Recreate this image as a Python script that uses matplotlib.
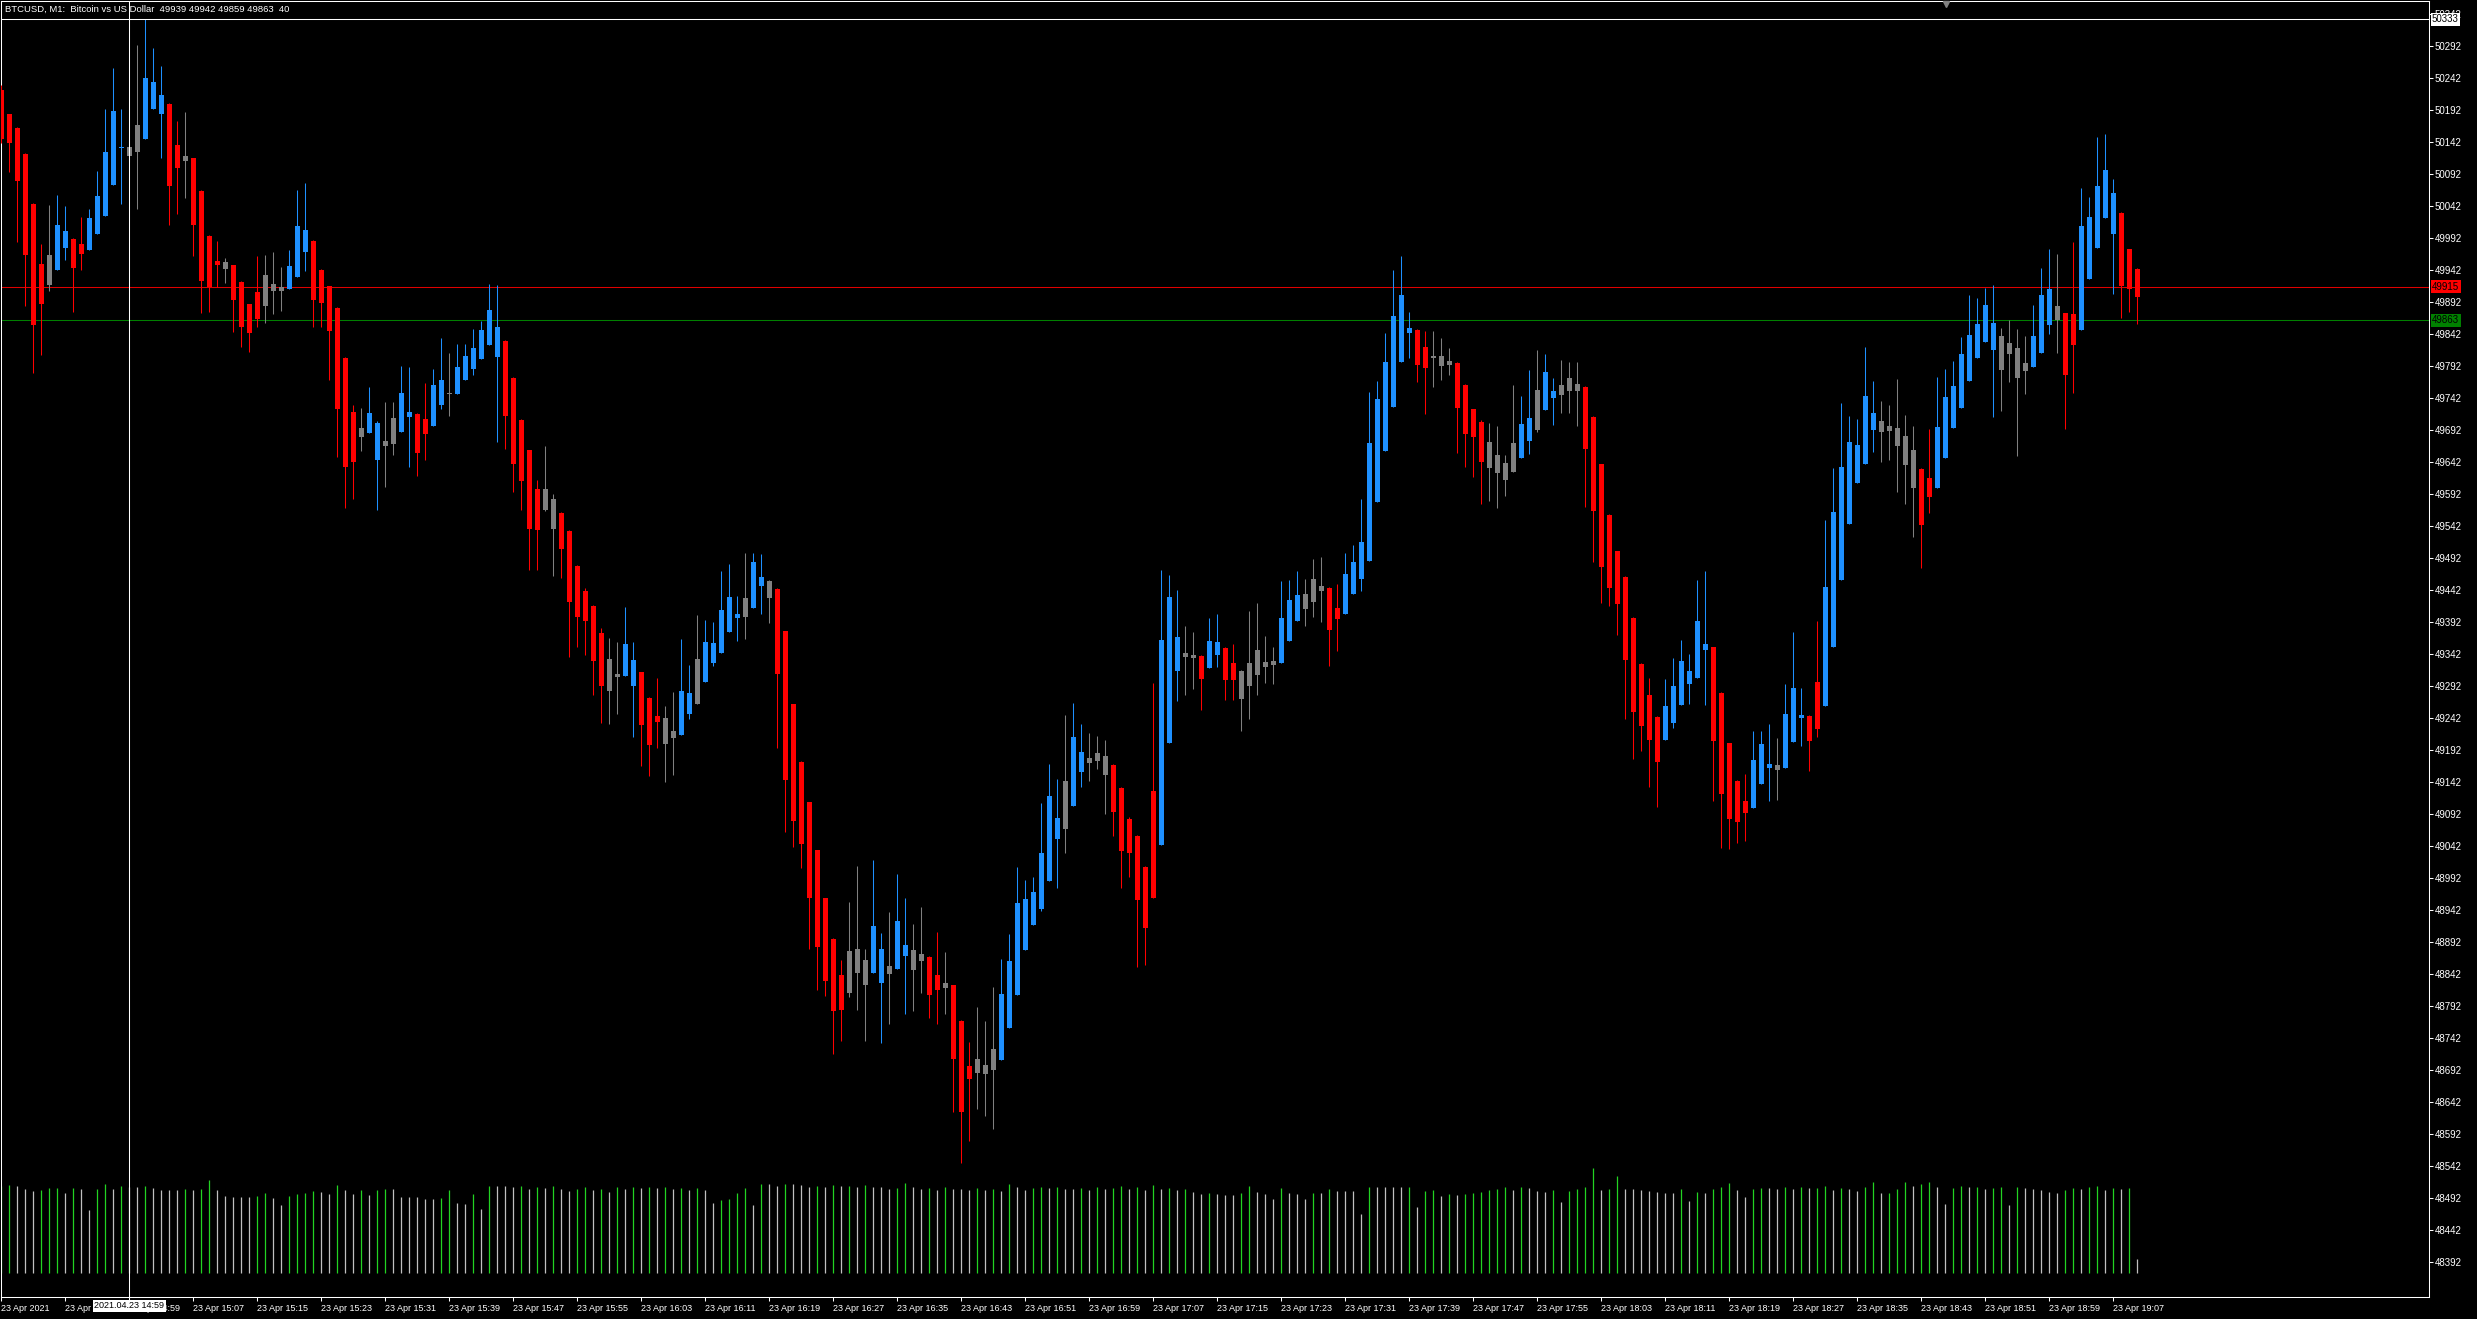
import matplotlib
matplotlib.use("Agg")
import matplotlib.pyplot as plt
from matplotlib.transforms import blended_transform_factory

plt.rcParams['font.family'] = ['Liberation Sans', 'DejaVu Sans']

# BTCUSD M1, 23 Apr 2021, one candle per minute from 14:43 to 19:10
opens = [
    50223, 50185, 50163, 50123, 50045, 49951, 49918, 49941, 49976, 49990,
    49982, 49973, 49998, 50026, 50074, 50132, 50120, 50126, 50146, 50193,
    50185, 50201, 50137, 50112, 50116, 50065, 49995, 49955, 49943, 49949,
    49923, 49888, 49907, 49886, 49909, 49909, 49912, 49930, 49970, 49987,
    49942, 49916, 49882, 49804, 49720, 49680, 49687, 49644, 49667, 49670,
    49689, 49712, 49717, 49709, 49697, 49730, 49748, 49748, 49769, 49787,
    49803, 49825, 49806, 49831, 49773, 49707, 49660, 49599, 49566, 49537,
    49562, 49534, 49479, 49440, 49417, 49374, 49284, 49306, 49307, 49292,
    49313, 49273, 49245, 49201, 49210, 49215, 49248, 49263, 49298, 49328,
    49343, 49376, 49398, 49399, 49413, 49448, 49429, 49443, 49377, 49263,
    49173, 49110, 49035, 48960, 48896, 48840, 48812, 48843, 48825, 48843,
    48827, 48842, 48849, 48870, 48847, 48862, 48868, 48840, 48819, 48824,
    48768, 48698, 48687, 48685, 48691, 48707, 48757, 48809, 48879, 48918,
    48943, 48987, 49052, 49068, 49104, 49157, 49171, 49174, 49152, 49168,
    49132, 49084, 49057, 49009, 49127, 49043, 49202, 49315, 49337, 49335,
    49338, 49320, 49340, 49351, 49327, 49271, 49292, 49309, 49321, 49324,
    49327, 49362, 49393, 49412, 49423, 49440, 49445, 49413, 49404, 49435,
    49459, 49487, 49579, 49659, 49727, 49798, 49843, 49848, 49821, 49804,
    49792, 49793, 49796, 49762, 49724, 49704, 49632, 49624, 49613, 49626,
    49648, 49674, 49692, 49723, 49742, 49746, 49752, 49752, 49759, 49712,
    49638, 49559, 49502, 49462, 49398, 49326, 49278, 49243, 49207, 49234,
    49262, 49295, 49304, 49348, 49352, 49281, 49202, 49143, 49112, 49101,
    49138, 49163, 49160, 49163, 49204, 49242, 49245, 49298, 49260, 49352,
    49457, 49545, 49609, 49638, 49692, 49688, 49690, 49667, 49637, 49601,
    49631, 49617, 49601, 49648, 49695, 49726, 49768, 49804, 49829, 49816,
    49785, 49810, 49773, 49784, 49790, 49812, 49856, 49863, 49874, 49873,
    49848, 49927, 49976, 50023, 49998, 50031, 49974, 49943,
]
highs = [
    50230, 50186, 50165, 50124, 50046, 49982, 50043, 50059, 50041, 49991,
    50024, 50037, 50096, 50193, 50257, 50193, 50145, 50293, 50333, 50288,
    50260, 50202, 50174, 50188, 50117, 50066, 49996, 49987, 49960, 49950,
    49924, 49889, 49963, 49965, 49970, 49946, 49973, 50067, 50077, 49988,
    49943, 49917, 49883, 49805, 49731, 49726, 49759, 49705, 49735, 49735,
    49792, 49790, 49718, 49765, 49787, 49835, 49812, 49826, 49826, 49849,
    49862, 49920, 49918, 49832, 49774, 49708, 49661, 49613, 49666, 49592,
    49563, 49535, 49480, 49445, 49418, 49382, 49367, 49360, 49415, 49360,
    49314, 49274, 49304, 49260, 49282, 49365, 49324, 49403, 49395, 49392,
    49471, 49482, 49432, 49499, 49499, 49498, 49457, 49444, 49378, 49264,
    49174, 49111, 49036, 48961, 48897, 48864, 48954, 49010, 48880, 49020,
    48906, 48938, 48998, 48960, 48920, 48946, 48869, 48907, 48876, 48825,
    48769, 48735, 48790, 48768, 48821, 48865, 48904, 49009, 48988, 48993,
    49109, 49170, 49146, 49246, 49265, 49232, 49218, 49213, 49207, 49169,
    49133, 49087, 49058, 49010, 49296, 49473, 49465, 49442, 49385, 49376,
    49340, 49398, 49404, 49352, 49357, 49316, 49409, 49421, 49370, 49352,
    49456, 49457, 49471, 49459, 49490, 49493, 49446, 49451, 49499, 49512,
    49584, 49751, 49768, 49843, 49942, 49963, 49876, 49849, 49846, 49846,
    49835, 49820, 49797, 49763, 49725, 49707, 49702, 49698, 49652, 49762,
    49745, 49785, 49817, 49810, 49773, 49801, 49798, 49798, 49760, 49713,
    49639, 49560, 49503, 49463, 49399, 49327, 49304, 49244, 49302, 49335,
    49363, 49342, 49457, 49471, 49353, 49282, 49203, 49144, 49154, 49221,
    49221, 49232, 49210, 49295, 49376, 49288, 49246, 49393, 49551, 49632,
    49734, 49713, 49709, 49821, 49768, 49737, 49731, 49771, 49715, 49698,
    49632, 49693, 49774, 49787, 49799, 49837, 49902, 49898, 49913, 49918,
    49851, 49863, 49849, 49838, 49887, 49945, 49974, 49967, 49875, 49985,
    50070, 50056, 50149, 50154, 50084, 50032, 49975, 49944,
]
lows = [
    50140, 50094, 49986, 49886, 49780, 49808, 49908, 49941, 49957, 49876,
    49941, 49973, 49998, 50026, 50074, 50045, 50110, 50037, 50146, 50193,
    50117, 50012, 50029, 50054, 49963, 49874, 49876, 49915, 49921, 49844,
    49821, 49813, 49852, 49858, 49873, 49878, 49912, 49930, 49940, 49852,
    49853, 49769, 49650, 49569, 49583, 49658, 49687, 49566, 49602, 49653,
    49689, 49634, 49619, 49645, 49697, 49725, 49713, 49748, 49769, 49778,
    49803, 49825, 49672, 49662, 49595, 49566, 49472, 49473, 49565, 49463,
    49461, 49337, 49353, 49340, 49278, 49234, 49232, 49248, 49307, 49212,
    49167, 49151, 49195, 49142, 49153, 49215, 49240, 49263, 49298, 49323,
    49343, 49376, 49362, 49365, 49413, 49404, 49390, 49195, 49063, 49040,
    49007, 48881, 48816, 48807, 48717, 48737, 48806, 48786, 48737, 48843,
    48733, 48763, 48849, 48779, 48783, 48812, 48772, 48764, 48779, 48626,
    48546, 48580, 48630, 48620, 48599, 48707, 48757, 48809, 48879, 48918,
    48940, 48987, 48976, 49031, 49104, 49134, 49143, 49162, 49092, 49057,
    48976, 48993, 48852, 48856, 48960, 49043, 49202, 49268, 49277, 49287,
    49254, 49320, 49321, 49270, 49270, 49221, 49240, 49277, 49296, 49295,
    49327, 49362, 49393, 49385, 49399, 49391, 49323, 49346, 49404, 49435,
    49440, 49487, 49579, 49659, 49727, 49798, 49804, 49767, 49717, 49759,
    49770, 49777, 49656, 49634, 49618, 49576, 49581, 49570, 49588, 49626,
    49648, 49654, 49688, 49723, 49699, 49718, 49718, 49698, 49571, 49486,
    49421, 49417, 49371, 49240, 49177, 49190, 49134, 49102, 49207, 49226,
    49262, 49263, 49304, 49262, 49112, 49038, 49037, 49046, 49049, 49101,
    49138, 49112, 49113, 49163, 49204, 49198, 49159, 49212, 49260, 49352,
    49457, 49545, 49609, 49638, 49657, 49642, 49645, 49595, 49576, 49524,
    49476, 49562, 49601, 49648, 49695, 49726, 49768, 49804, 49829, 49712,
    49721, 49766, 49651, 49748, 49790, 49812, 49842, 49812, 49693, 49749,
    49848, 49927, 49976, 50023, 49904, 49867, 49876, 49857,
]
closes = [
    50146, 50140, 50081, 49965, 49856, 49888, 49965, 50012, 50002, 49945,
    49966, 50023, 50057, 50126, 50190, 50134, 50134, 50168, 50241, 50235,
    50215, 50073, 50101, 50120, 50012, 49924, 49915, 49949, 49954, 49894,
    49852, 49843, 49865, 49934, 49920, 49915, 49948, 50010, 50004, 49895,
    49890, 49846, 49725, 49634, 49642, 49695, 49718, 49702, 49674, 49710,
    49749, 49720, 49656, 49686, 49762, 49770, 49750, 49790, 49807, 49820,
    49848, 49879, 49852, 49714, 49639, 49612, 49537, 49535, 49599, 49584,
    49506, 49423, 49399, 49393, 49331, 49292, 49334, 49310, 49357, 49332,
    49231, 49199, 49235, 49242, 49221, 49284, 49281, 49334, 49360, 49359,
    49410, 49431, 49404, 49429, 49485, 49462, 49456, 49310, 49145, 49081,
    49045, 48961, 48883, 48831, 48783, 48785, 48877, 48880, 48864, 48917,
    48880, 48854, 48924, 48887, 48879, 48873, 48809, 48816, 48827, 48709,
    48626, 48678, 48709, 48699, 48724, 48810, 48862, 48952, 48959, 48970,
    49031, 49120, 49085, 49143, 49212, 49188, 49179, 49187, 49182, 49095,
    49034, 49031, 48957, 48913, 48960, 49363, 49431, 49368, 49343, 49340,
    49302, 49362, 49360, 49301, 49301, 49315, 49327, 49348, 49329, 49330,
    49398, 49426, 49434, 49435, 49459, 49448, 49379, 49396, 49467, 49485,
    49517, 49671, 49740, 49798, 49870, 49902, 49851, 49793, 49788, 49807,
    49807, 49799, 49726, 49685, 49681, 49642, 49673, 49652, 49640, 49671,
    49701, 49710, 49754, 49782, 49752, 49762, 49773, 49763, 49662, 49565,
    49477, 49445, 49420, 49332, 49251, 49229, 49207, 49173, 49260, 49292,
    49331, 49315, 49393, 49357, 49206, 49123, 49084, 49079, 49093, 49176,
    49201, 49170, 49168, 49248, 49288, 49246, 49206, 49224, 49446, 49563,
    49634, 49673, 49668, 49745, 49718, 49706, 49698, 49695, 49682, 49660,
    49543, 49587, 49696, 49743, 49760, 49810, 49840, 49857, 49887, 49859,
    49838, 49827, 49820, 49796, 49838, 49902, 49912, 49885, 49777, 49824,
    50010, 50024, 50073, 50098, 50062, 49917, 49912, 49899,
]
# candles drawn in the neutral (gray) colour
neutral = [6, 16, 17, 23, 28, 33, 34, 35, 45, 48, 49, 56, 68, 69, 76, 77, 83, 84,
           87, 93, 96, 106, 107, 108, 111, 114, 115, 118, 122, 123, 124, 133,
           136, 137, 138, 148, 149, 155, 156, 157, 158, 159, 163, 164, 165, 179,
           180, 181, 186, 187, 188, 189, 192, 195, 196, 197, 222, 235, 236, 237,
           238, 239, 250, 251, 252, 253, 257]
volumes = [
    250, 252, 249, 240, 235, 237, 242, 243, 230, 243,
    239, 180, 240, 255, 240, 249, 247, 247, 249, 242,
    237, 237, 237, 240, 237, 240, 266, 237, 220, 218,
    218, 218, 220, 228, 214, 194, 220, 226, 228, 234,
    232, 226, 252, 237, 226, 237, 223, 236, 239, 239,
    218, 216, 216, 213, 213, 215, 237, 199, 196, 225,
    182, 249, 249, 249, 245, 249, 240, 245, 242, 249,
    240, 235, 240, 245, 238, 240, 232, 245, 240, 245,
    242, 247, 242, 245, 239, 242, 237, 242, 237, 200,
    210, 212, 228, 242, 194, 255, 255, 249, 255, 255,
    252, 245, 250, 245, 252, 248, 250, 245, 252, 245,
    245, 240, 242, 258, 245, 240, 242, 238, 245, 240,
    240, 237, 242, 238, 240, 235, 255, 245, 238, 242,
    245, 242, 247, 240, 240, 243, 238, 245, 240, 242,
    248, 240, 245, 237, 252, 240, 242, 236, 240, 232,
    226, 230, 225, 223, 222, 228, 250, 232, 225, 212,
    242, 228, 225, 212, 230, 228, 240, 235, 235, 235,
    168, 247, 247, 247, 245, 245, 247, 190, 235, 238,
    220, 226, 222, 225, 228, 232, 236, 240, 245, 237,
    247, 242, 235, 232, 236, 203, 235, 240, 245, 300,
    237, 240, 277, 240, 240, 237, 235, 232, 228, 228,
    240, 207, 233, 228, 240, 245, 257, 238, 218, 240,
    243, 242, 240, 245, 240, 245, 242, 243, 248, 237,
    242, 240, 235, 245, 259, 228, 230, 240, 259, 250,
    255, 259, 245, 197, 243, 249, 245, 247, 240, 242,
    245, 194, 245, 242, 240, 238, 233, 228, 237, 242,
    240, 245, 249, 238, 242, 240, 242, 40,
]

price_ticks = [48392 + 50 * i for i in range(40)]
time_pos = [8 * i for i in range(34)]
time_labels = ["23 Apr 2021", "23 Apr 14:51", "23 Apr 14:59", "23 Apr 15:07",
               "23 Apr 15:15", "23 Apr 15:23", "23 Apr 15:31", "23 Apr 15:39",
               "23 Apr 15:47", "23 Apr 15:55", "23 Apr 16:03", "23 Apr 16:11",
               "23 Apr 16:19", "23 Apr 16:27", "23 Apr 16:35", "23 Apr 16:43",
               "23 Apr 16:51", "23 Apr 16:59", "23 Apr 17:07", "23 Apr 17:15",
               "23 Apr 17:23", "23 Apr 17:31", "23 Apr 17:39", "23 Apr 17:47",
               "23 Apr 17:55", "23 Apr 18:03", "23 Apr 18:11", "23 Apr 18:19",
               "23 Apr 18:27", "23 Apr 18:35", "23 Apr 18:43", "23 Apr 18:51",
               "23 Apr 18:59", "23 Apr 19:07"]
ask_price = 49915
bid_price = 49863
cross_index = 16
cross_price = 50333
cross_time = "2021.04.23 14:59"
header = "BTCUSD, M1:  Bitcoin vs US Dollar  49939 49942 49859 49863  40"

BLUE = "#1E90FF"
RED = "#FF0000"
GRAY = "#808080"

W, H = 2477, 1319
fig = plt.figure(figsize=(W / 100, H / 100), dpi=100, facecolor="black")
rect = [1 / W, 1 - 1297 / H, 2428 / W, 1296 / H]

# volumes sit underneath, on their own scale
axv = fig.add_axes(rect)
axv.set_facecolor("black")
axv.set_xlim(-0.04, 303.46)
axv.set_ylim(-68.6, 3638)
axv.axis("off")
x = list(range(len(opens)))
vcol = ["#22D322" if i == 0 or volumes[i] > volumes[i - 1] else "#C0C0C0" for i in x]
axv.vlines(x, 0, volumes, colors=vcol, lw=0.9)

ax = fig.add_axes(rect)
ax.patch.set_alpha(0)
ax.set_xlim(-0.04, 303.46)
ax.set_ylim(48336.8, 50361.8)

colors = []
for i in x:
    if i in neutral:
        colors.append(GRAY)
    elif closes[i] >= opens[i]:
        colors.append(BLUE)
    else:
        colors.append(RED)
bottoms = [min(o, c) for o, c in zip(opens, closes)]
heights = [max(abs(c - o), 1.6) for o, c in zip(opens, closes)]
ax.vlines(x, lows, highs, colors=colors, lw=0.75, zorder=3)
ax.bar(x, heights, width=0.625, bottom=bottoms, color=colors, linewidth=0, zorder=4)

ax.axhline(ask_price, color="#E00000", lw=0.75, zorder=2)
ax.axhline(bid_price, color="#008000", lw=0.75, zorder=2)
ax.axvline(cross_index, color="white", lw=0.75, zorder=5)
ax.axhline(cross_price, color="white", lw=0.75, zorder=5)

for s in ax.spines.values():
    s.set_color("white")
    s.set_linewidth(0.75)

ax.yaxis.tick_right()
ax.set_yticks(price_ticks)
ax.set_yticklabels([str(p) for p in price_ticks])
ax.tick_params(axis="y", colors="white", length=3, width=0.75, pad=1, labelsize=7)
ax.set_xticks(time_pos)
ax.set_xticklabels(time_labels, ha="left")
ax.tick_params(axis="x", colors="white", length=3, width=0.75, pad=2, labelsize=6.5)

ty = blended_transform_factory(ax.transAxes, ax.transData)
xt = 1 + 3 / 2428
ax.text(xt, cross_price, str(cross_price), transform=ty, ha="left", va="center",
        fontsize=7, color="black", clip_on=False, zorder=10,
        bbox=dict(boxstyle="square,pad=0.15", fc="white", ec="none"))
ax.text(xt, ask_price, str(ask_price), transform=ty, ha="left", va="center",
        fontsize=7, color="black", clip_on=False, zorder=10,
        bbox=dict(boxstyle="square,pad=0.15", fc="#FF0000", ec="none"))
ax.text(xt, bid_price, str(bid_price), transform=ty, ha="left", va="center",
        fontsize=7, color="black", clip_on=False, zorder=10,
        bbox=dict(boxstyle="square,pad=0.15", fc="#008000", ec="none"))

tx = blended_transform_factory(ax.transData, ax.transAxes)
ax.text(cross_index, -9 / 1296, cross_time, transform=tx, ha="center", va="center",
        fontsize=6.5, color="black", clip_on=False, zorder=10,
        bbox=dict(boxstyle="square,pad=0.15", fc="white", ec="none"))

ax.text(4 / 2428, 1 - 8 / 1296, header, transform=ax.transAxes, ha="left",
        va="center", fontsize=6.8, color="white", zorder=6)
ax.plot([243.1], [1 - 2.5 / 1296], marker="v", ms=4, color="#808080",
        transform=tx, clip_on=False, zorder=6)

fig.savefig("out.png", dpi=100, facecolor="black")
